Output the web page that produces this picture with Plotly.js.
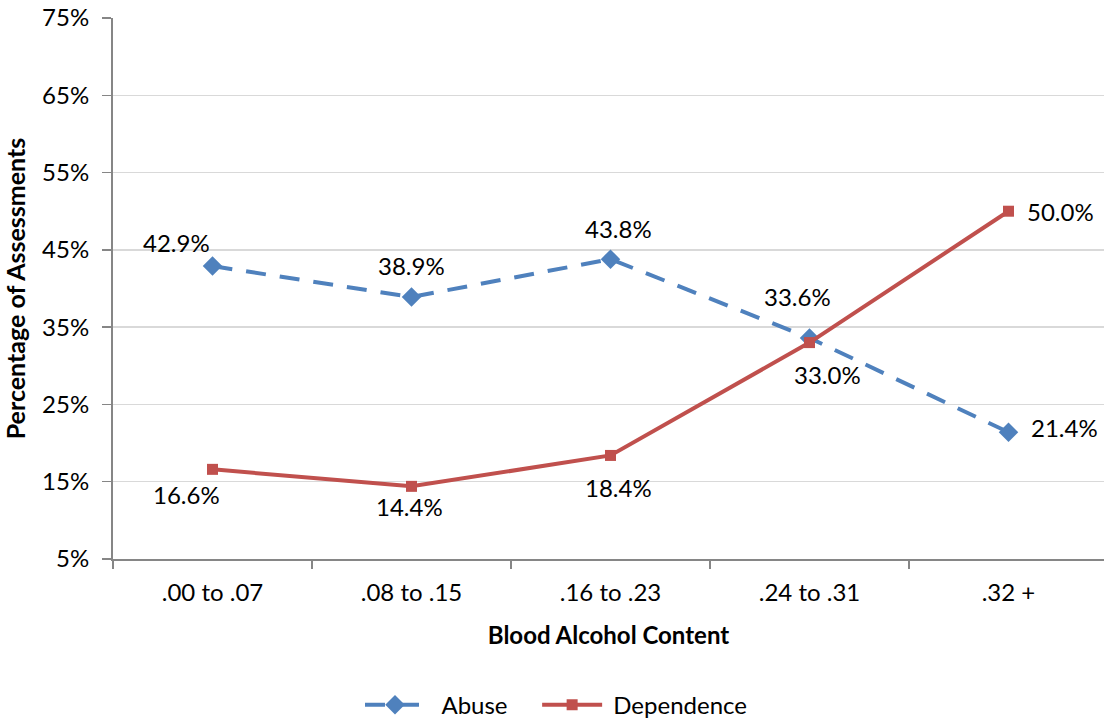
<!DOCTYPE html>
<html>
<head>
<meta charset="utf-8">
<script src="https://cdn.plot.ly/plotly-3.0.1.min.js"></script>
<style>
  html, body { margin: 0; padding: 0; background: #fff; }
  #chart { width: 1104px; height: 719px; }
</style>
</head>
<body>
<div id="chart"></div>
<script>
// Blood alcohol content bands
const categories = ['.00 to .07', '.08 to .15', '.16 to .23', '.24 to .31', '.32 +'];
// Share of assessments (%)
const abuse = [42.9, 38.9, 43.8, 33.6, 21.4];
const dependence = [16.6, 14.4, 18.4, 33.0, 50.0];
const yTicks = [5, 15, 25, 35, 45, 55, 65, 75];

// Pixel offsets for each value label
const abuseLabelShift = [[-36, 24], [0, 32], [8, 31], [-12, 41], [56, 5]];
const depLabelShift = [[-26, -25], [-2, -20], [8, -32], [18, -32], [52, 0]];

const FONT = 'Lato, "Open Sans", "Liberation Sans", sans-serif';
const BLUE = '#4F81BD';
const RED = '#C0504D';
const NB = '\u00a0';

const traces = [
  {
    x: categories, y: abuse, name: NB.repeat(2) + 'Abuse' + NB.repeat(4),
    type: 'scatter', mode: 'lines+markers',
    line: { color: BLUE, width: 4, dash: '20px,14px' },
    marker: { symbol: 'diamond', size: 15, color: BLUE }
  },
  {
    x: categories, y: dependence, name: NB.repeat(1) + 'Dependence',
    type: 'scatter', mode: 'lines+markers',
    line: { color: RED, width: 4 },
    marker: { symbol: 'square', size: 11, color: RED }
  }
];

function labels(values, shifts) {
  return values.map((v, i) => ({
    x: categories[i], y: v, xref: 'x', yref: 'y',
    text: v.toFixed(1) + '%', showarrow: false,
    xshift: shifts[i][0], yshift: shifts[i][1],
    font: { family: FONT, size: 24, color: '#000' }
  }));
}

const layout = {
  width: 1104, height: 719,
  margin: { l: 113, r: 0, t: 18, b: 160, autoexpand: false },
  paper_bgcolor: '#fff', plot_bgcolor: '#fff',
  font: { family: FONT, size: 24, color: '#000' },
  showlegend: true,
  legend: {
    orientation: 'h', x: 0.447, xanchor: 'center', y: -0.27, yanchor: 'middle',
    itemwidth: 60,
    font: { family: FONT, size: 24, color: '#000' }
  },
  xaxis: {
    type: 'category', range: [-0.5, 4.48], automargin: false,
    showgrid: false, zeroline: false,
    showline: true, linecolor: '#868686', linewidth: 2,
    ticks: 'outside', tickson: 'boundaries', ticklen: 8, tickcolor: '#868686', tickwidth: 1.5,
    ticklabelstandoff: 11,
    tickfont: { family: FONT, size: 24, color: '#000' },
    title: { text: '<b>Blood Alcohol Content</b>', font: { family: FONT, size: 24, color: '#000' }, standoff: 22 }
  },
  yaxis: {
    range: [5, 75], tickvals: yTicks, ticktext: yTicks.map(t => t + '%'), automargin: false,
    showgrid: true, gridcolor: '#D9D9D9', gridwidth: 1.5, zeroline: false,
    showline: true, linecolor: '#868686', linewidth: 2,
    ticks: 'outside', ticklen: 9, tickcolor: '#868686', tickwidth: 1.5,
    ticklabelstandoff: 8,
    tickfont: { family: FONT, size: 24, color: '#000' },
    title: { text: '<b>Percentage of Assessments</b>', font: { family: FONT, size: 25, color: '#000' }, standoff: 10 }
  },
  annotations: labels(abuse, abuseLabelShift).concat(labels(dependence, depLabelShift))
};

Plotly.newPlot('chart', traces, layout, { displayModeBar: false, staticPlot: true });
</script>
</body>
</html>
